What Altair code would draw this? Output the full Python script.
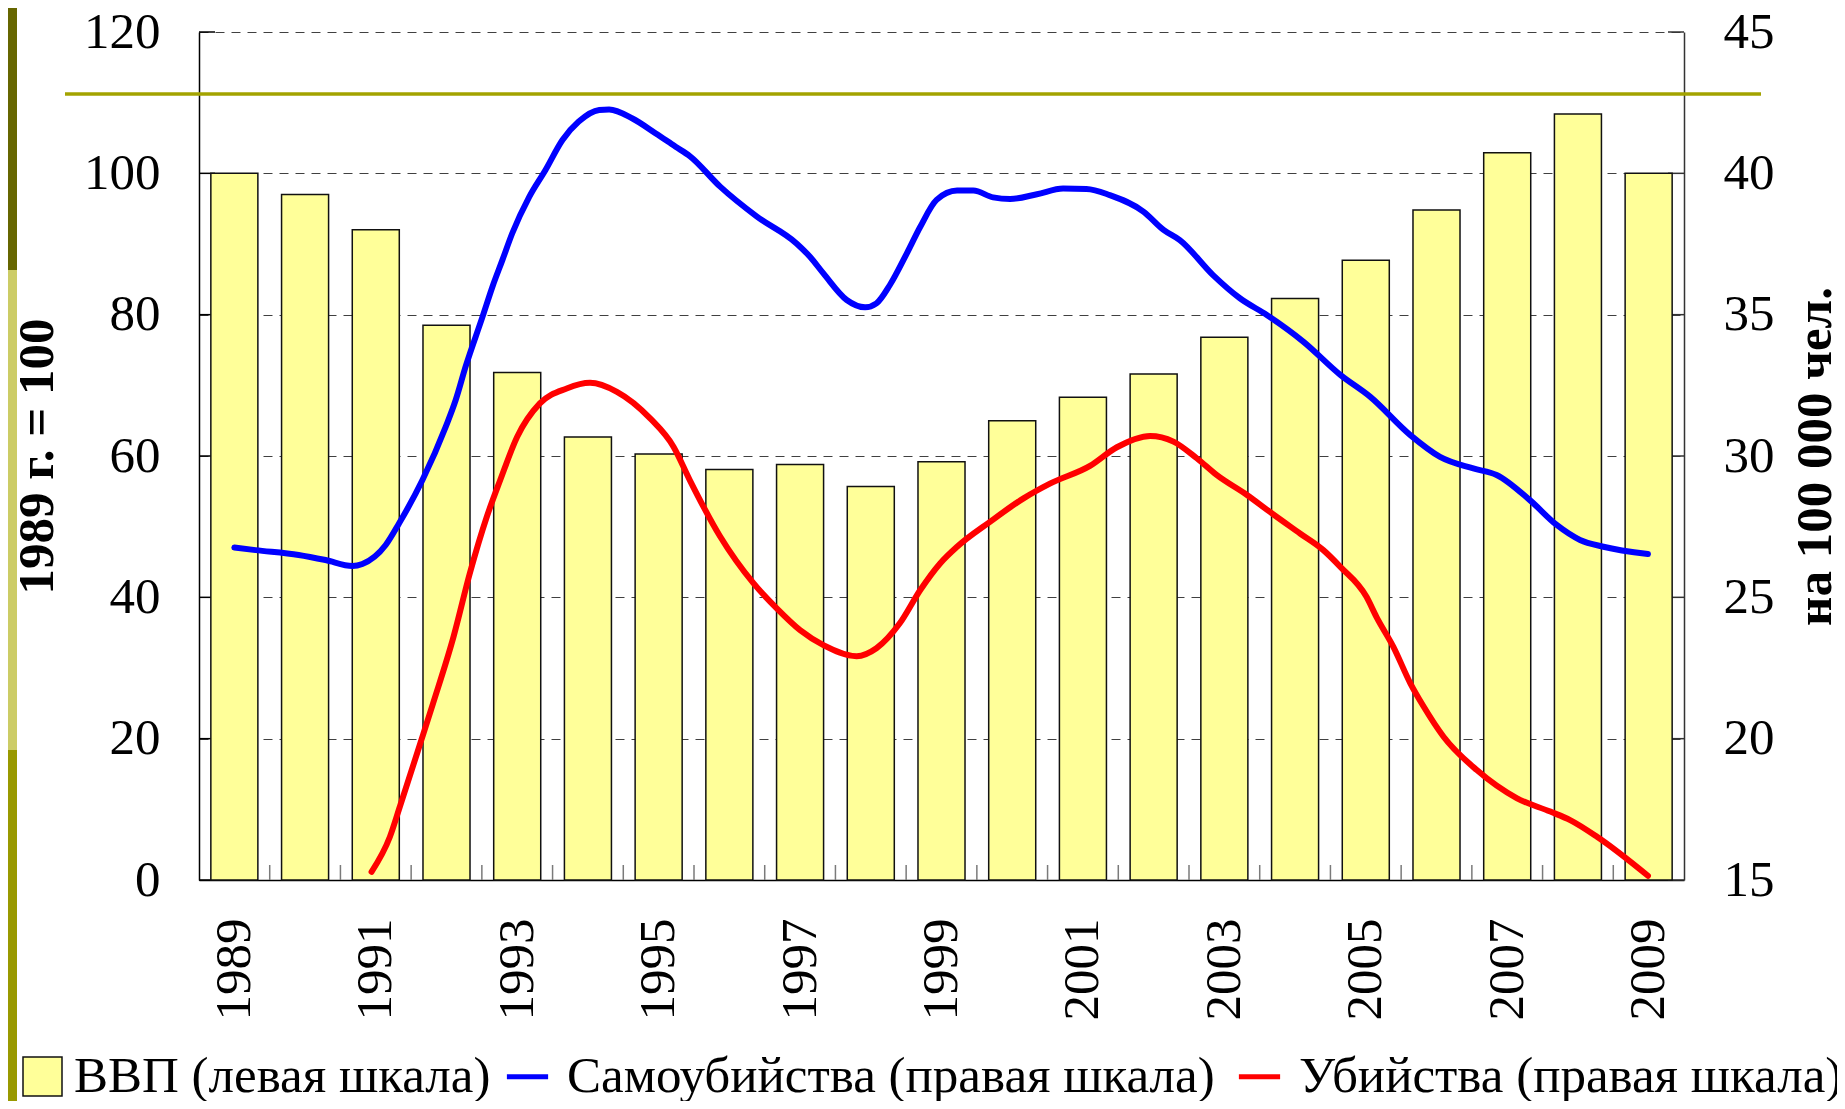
import altair as alt
import pandas as pd

# ---------------- data ----------------
years = list(range(1989, 2010))
gdp = [100, 97, 92, 78.5, 71.8, 62.7, 60.3, 58.1, 58.8, 55.7, 59.2,
       65.0, 68.3, 71.6, 76.8, 82.3, 87.7, 94.8, 102.9, 108.4, 100]

suicide_t = [1989.0, 1989.30, 1989.91, 1990.29, 1990.67, 1990.81, 1991.14, 1991.33,
             1991.66, 1991.99, 1992.13, 1992.27, 1992.51, 1992.65, 1992.79, 1992.93,
             1993.17, 1993.40, 1993.64, 1993.87, 1994.16, 1994.30, 1994.63, 1994.96,
             1995.24, 1995.44, 1995.87, 1996.39, 1996.95, 1997.14, 1997.33, 1997.66,
             1997.92, 1998.08, 1998.27, 1998.51, 1998.70, 1998.93, 1999.22, 1999.45,
             1999.73, 1999.97, 2000.35, 2000.72, 2001.05, 2001.38, 2001.86, 2002.14,
             2002.37, 2002.84, 2003.22, 2003.60, 2004.12, 2004.64, 2005.06, 2005.63,
             2006.05, 2006.52, 2006.85, 2007.32, 2007.70, 2008.03, 2008.36, 2008.99]
suicide_v = [26.76, 26.67, 26.50, 26.32, 26.11, 26.18, 26.85, 27.62,
             29.15, 31.04, 31.98, 33.16, 34.93, 35.99, 36.93, 37.88,
             39.17, 40.12, 41.18, 41.83, 42.24, 42.26, 41.94, 41.41,
             40.94, 40.61, 39.53, 38.47, 37.52, 37.05, 36.46, 35.52,
             35.26, 35.40, 36.05, 37.17, 38.11, 39.06, 39.39, 39.39,
             39.15, 39.09, 39.26, 39.46, 39.45, 39.23, 38.64, 38.00,
             37.64, 36.40, 35.58, 34.99, 34.04, 32.87, 32.10, 30.74,
             29.97, 29.56, 29.33, 28.44, 27.56, 27.03, 26.79, 26.53]

murder_t = [1990.94, 1991.20, 1991.34, 1991.63, 1991.81, 1992.10, 1992.33, 1992.57,
            1992.76, 1993.00, 1993.32, 1993.70, 1994.03, 1994.41, 1994.88, 1995.21,
            1995.44, 1995.87, 1996.34, 1996.67, 1997.00, 1997.33, 1997.80, 1998.08,
            1998.41, 1998.70, 1998.98, 1999.22, 1999.69, 2000.16, 2000.54, 2001.10,
            2001.48, 2001.95, 2002.28, 2002.61, 2002.89, 2003.32, 2003.64, 2004.07,
            2004.40, 2004.64, 2005.01, 2005.15, 2005.39, 2005.63, 2005.82, 2006.10,
            2006.57, 2007.14, 2007.61, 2007.89, 2008.27, 2008.99]
murder_v = [15.29, 16.53, 17.59, 19.84, 21.25, 23.61, 25.85, 27.85,
            29.15, 30.68, 31.86, 32.39, 32.59, 32.27, 31.33, 30.33,
            29.15, 27.15, 25.50, 24.61, 23.84, 23.31, 22.92, 23.20,
            24.08, 25.26, 26.20, 26.79, 27.68, 28.50, 29.03, 29.65,
            30.31, 30.71, 30.51, 29.92, 29.33, 28.62, 28.03, 27.26,
            26.67, 26.08, 25.02, 24.31, 23.25, 21.96, 21.13, 20.07,
            18.89, 17.89, 17.42, 17.12, 16.53, 15.15]

left_ticks = [0, 20, 40, 60, 80, 100, 120]
right_ticks = [15, 20, 25, 30, 35, 40, 45]
label_years = [1989, 1991, 1993, 1995, 1997, 1999, 2001, 2003, 2005, 2007, 2009]

GDP_NAME = "ВВП (левая шкала)"
SUI_NAME = "Самоубийства (правая шкала)"
MUR_NAME = "Убийства (правая шкала)"
LEFT_TITLE = "1989 г. = 100"
RIGHT_TITLE = "на 100 000 чел."

# ---------------- layout / style ----------------
W, H = 1485, 848
FONT = "Liberation Serif"
FS = 51

bars_df = pd.DataFrame({"year": years, "gdp": gdp, "s": GDP_NAME})
lines_df = pd.concat([
    pd.DataFrame({"t": suicide_t, "v": suicide_v, "s": SUI_NAME}),
    pd.DataFrame({"t": murder_t, "v": murder_v, "s": MUR_NAME}),
], ignore_index=True)
bounds_df = pd.DataFrame({"year": years[:-1]})
ticks_df = pd.DataFrame({"v": left_ticks})
one = pd.DataFrame({"k": [0]})

x_scale = alt.Scale(domain=[1988.5, 2009.5], nice=False, zero=False)
x_axis = alt.Axis(values=label_years, format="d", labelAngle=270, ticks=False,
                  grid=False, domainColor="black", domainWidth=1.5,
                  labelPadding=38, title=None, labelFlush=False, labelOverlap=False)

yl_scale = alt.Scale(domain=[0, 120], nice=False)
yl_axis = alt.Axis(orient="left", values=left_ticks, ticks=False, grid=True,
                   gridDash=[9, 7], gridColor="#404040", gridWidth=1,
                   domainColor="black", domainWidth=1.5, labelPadding=39,
                   title=LEFT_TITLE, titleAngle=270, titleX=-147, titleY=H / 2,
                   titleAlign="center", titleBaseline="alphabetic")

yr_scale = alt.Scale(domain=[15, 45], nice=False, zero=False)
yr_axis = alt.Axis(orient="right", values=right_ticks, ticks=False, grid=False,
                   domainColor="#333333", domainWidth=1.5, labelPadding=39,
                   title=RIGHT_TITLE, titleAngle=270, titleX=146, titleY=H / 2,
                   titleAlign="center", titleBaseline="alphabetic")

# slide decorations
stripe_top = alt.Chart(one).mark_rect(color="#666600").encode(
    x=alt.value(-199), x2=alt.value(-182), y=alt.value(-32), y2=alt.value(238))
stripe_mid = alt.Chart(one).mark_rect(color="#CCCC66").encode(
    x=alt.value(-199), x2=alt.value(-182), y=alt.value(238), y2=alt.value(718))
stripe_bot = alt.Chart(one).mark_rect(color="#999900").encode(
    x=alt.value(-199), x2=alt.value(-182), y=alt.value(718), y2=alt.value(1080))
olive = alt.Chart(one).mark_rule(color="#A3A300", strokeWidth=3.5).encode(
    x=alt.value(-134), x2=alt.value(1562), y=alt.value(62))

# inward tick marks
yt_left = alt.Chart(ticks_df).mark_rule(color="black", strokeWidth=1.5).encode(
    y=alt.Y("v:Q", scale=yl_scale, axis=yl_axis), x=alt.value(0), x2=alt.value(16))
yt_right = alt.Chart(ticks_df).mark_rule(color="#333333", strokeWidth=1.5).encode(
    y=alt.Y("v:Q", scale=yl_scale, axis=yl_axis), x=alt.value(W - 16), x2=alt.value(W))
xt = alt.Chart(bounds_df).transform_calculate(b="datum.year + 0.5").mark_rule(
    color="#7a7a7a", strokeWidth=1.5).encode(
    x=alt.X("b:Q", scale=x_scale, axis=x_axis), y=alt.value(H), y2=alt.value(H - 15))

bars = alt.Chart(bars_df).transform_calculate(
    x0="datum.year - 0.3325", x1="datum.year + 0.3325"
).mark_rect(stroke="#111111", strokeWidth=1.5).encode(
    x=alt.X("x0:Q", scale=x_scale, axis=x_axis),
    x2="x1:Q",
    y=alt.Y("gdp:Q", scale=yl_scale, axis=yl_axis),
    y2=alt.datum(0),
    fill=alt.Fill("s:N", scale=alt.Scale(domain=[GDP_NAME], range=["#FFFF99"]),
                  legend=alt.Legend(orient="none", legendX=-182, legendY=1019,
                                    title=None, padding=0, symbolType="square",
                                    symbolSize=1521, symbolStrokeColor="#111111",
                                    symbolStrokeWidth=1.5, labelOffset=6,
                                    labelLimit=2000)),
)

lines = alt.Chart(lines_df).mark_line(strokeWidth=6, strokeCap="round",
                                      strokeJoin="round", interpolate="monotone").encode(
    x=alt.X("t:Q", scale=x_scale, axis=x_axis),
    y=alt.Y("v:Q", scale=yr_scale, axis=yr_axis),
    stroke=alt.Stroke("s:N", scale=alt.Scale(domain=[SUI_NAME, MUR_NAME],
                                             range=["#0000FF", "#FF0000"]),
                      legend=alt.Legend(orient="none", legendX=303, legendY=1019,
                                        direction="horizontal", title=None, padding=0,
                                        symbolType="stroke", symbolSize=1700,
                                        symbolStrokeWidth=5, labelOffset=14,
                                        columnPadding=13, labelLimit=2000)),
)

left = alt.layer(stripe_top, stripe_mid, stripe_bot, yt_left, yt_right, xt, bars, olive)

chart = alt.layer(left, lines).resolve_scale(y="independent").properties(
    width=W, height=H,
    padding={"left": 191, "top": 24, "right": 153, "bottom": 221},
    autosize=alt.AutoSizeParams(type="none"),
).configure_view(stroke=None).configure_axis(
    labelFont=FONT, labelFontSize=FS, labelColor="black",
    titleFont=FONT, titleFontSize=FS, titleFontWeight="bold", titleColor="black",
).configure_legend(
    labelFont=FONT, labelFontSize=FS, labelColor="black",
)

chart.save("out.html", embed_options={"renderer": "svg", "actions": False})
